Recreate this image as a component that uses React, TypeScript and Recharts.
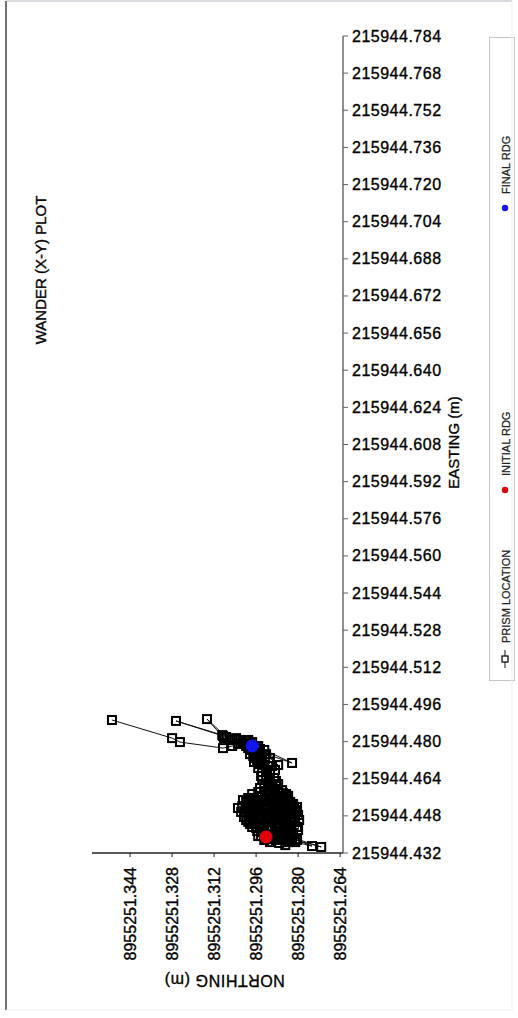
import React from 'react';
import { ScatterChart, Scatter, XAxis, YAxis, Legend, Label } from 'recharts';

// Survey reference coordinates (m); readings below are millimetres past these.
const NORTHING_BASE = 8955251;
const EASTING_BASE = 215944;

// Prism readings in recorded order: [northing mm, easting mm]
const prismReadingsMm: [number, number][] = [
  [292.2, 438.5], [290.7, 440.2], [293.7, 441.0], [295.2, 439.3], [288.4, 437.6],
  [284.9, 435.4], [286.9, 439.3], [289.9, 441.9], [283.0, 438.9], [271.2, 434.6],
  [282.3, 438.0], [280.4, 437.6], [274.7, 435.0], [281.1, 436.7], [285.3, 441.0],
  [287.6, 442.8], [291.4, 443.6], [296.0, 442.8], [298.3, 444.5], [299.8, 446.2],
  [297.5, 447.9], [294.5, 446.2], [290.7, 445.4], [286.9, 444.5], [283.8, 443.6],
  [280.4, 443.2], [282.3, 445.4], [285.3, 447.1], [288.4, 447.9], [292.2, 448.8],
  [296.0, 449.7], [299.0, 450.5], [301.3, 452.2], [302.9, 451.4], [299.8, 454.0],
  [296.8, 452.2], [293.7, 451.4], [289.9, 450.5], [286.1, 449.7], [282.3, 448.8],
  [280.0, 448.4], [281.5, 451.4], [284.6, 452.2], [288.4, 453.1], [292.2, 454.0],
  [296.0, 454.8], [299.0, 455.7], [301.0, 454.8], [297.5, 457.4], [293.7, 456.6],
  [289.9, 455.7], [286.1, 454.8], [283.0, 454.0], [280.4, 451.8], [283.8, 456.6],
  [287.6, 458.3], [291.4, 459.1], [294.5, 460.0], [292.9, 437.6], [290.7, 436.7],
  [287.6, 438.5], [284.6, 437.6], [283.4, 441.0], [285.7, 442.8], [288.8, 441.0],
  [291.8, 441.9], [294.5, 443.6], [296.8, 446.2], [293.3, 447.1], [289.5, 446.2],
  [286.5, 446.2], [283.0, 447.1], [281.1, 445.4], [282.7, 442.8], [284.9, 444.5],
  [288.4, 443.6], [292.9, 444.5], [295.6, 447.9], [298.3, 448.8], [300.2, 449.7],
  [297.5, 451.4], [294.5, 449.7], [291.0, 447.9], [287.2, 448.8], [283.8, 449.7],
  [281.9, 453.1], [285.3, 454.0], [289.1, 452.2], [292.9, 452.2], [295.2, 454.0],
  [298.3, 453.1], [299.8, 451.4], [296.8, 455.7], [292.9, 454.8], [288.4, 454.8],
  [285.3, 456.6], [289.1, 457.4], [292.2, 457.4], [295.2, 458.3], [292.9, 460.9],
  [294.1, 439.3], [291.4, 440.2], [289.1, 439.3], [286.1, 438.5], [283.8, 436.7],
  [287.2, 436.3], [290.3, 438.0], [292.9, 439.8], [295.6, 441.5], [297.5, 443.2],
  [299.0, 445.4], [296.4, 444.9], [293.7, 442.8], [290.7, 443.2], [287.2, 441.5],
  [284.6, 441.9], [281.9, 440.6], [280.0, 441.9], [279.6, 446.2], [281.5, 447.5],
  [284.2, 445.8], [287.2, 446.6], [290.3, 447.1], [293.7, 447.9], [296.4, 450.1],
  [298.7, 448.4], [300.6, 447.5], [301.7, 449.7], [299.4, 452.2], [295.6, 451.8],
  [291.8, 450.5], [288.0, 449.7], [284.2, 448.4], [280.8, 450.5], [282.7, 452.7],
  [286.5, 451.8], [290.3, 453.1], [294.5, 453.1], [297.9, 454.8], [294.9, 456.1],
  [291.0, 455.3], [287.2, 456.1], [284.2, 454.8], [285.7, 457.8], [289.1, 459.1],
  [292.6, 458.7], [291.4, 461.3], [288.4, 463.0], [291.0, 464.3], [294.1, 465.2],
  [289.9, 460.0], [286.1, 459.1], [284.6, 457.4], [287.6, 461.7], [290.7, 462.6],
  [293.7, 463.4], [292.2, 465.2], [289.1, 464.3], [290.7, 466.0], [293.7, 466.9],
  [291.8, 466.9], [289.9, 469.5], [292.9, 469.9], [295.6, 471.2], [292.6, 472.5],
  [295.2, 468.6], [292.2, 467.8], [288.8, 467.8], [291.4, 469.5], [294.5, 470.3],
  [296.8, 471.2], [293.7, 472.1], [291.0, 471.2], [287.6, 469.9], [290.7, 472.9],
  [294.9, 474.2], [297.1, 473.8], [294.5, 476.8], [296.8, 475.5], [299.0, 477.2],
  [293.7, 473.8], [296.0, 472.9], [298.3, 474.6], [295.2, 475.5], [292.2, 474.6],
  [282.3, 470.8], [292.9, 476.4], [296.0, 477.2], [298.3, 476.4], [299.8, 478.1],
  [300.6, 479.0], [302.1, 480.7], [298.3, 479.0],
  [297.5, 479.8], [295.2, 478.1], [299.0, 480.7], [301.3, 479.8], [303.6, 481.5],
  [308.2, 481.5], [314.7, 489.7], [307.4, 482.0], [308.9, 482.8], [326.5, 488.9],
  [308.6, 482.4], [305.9, 480.7], [302.9, 479.0], [305.1, 478.1], [308.6, 477.2],
  [325.0, 479.8], [328.0, 481.5], [350.9, 489.3],
];

const initialReadingMm: [number, number] = [292.2, 438.9];
const finalReadingMm: [number, number] = [297.5, 478.1];

const northingTicks = [
  8955251.344, 8955251.328, 8955251.312, 8955251.296, 8955251.28, 8955251.264,
];
const eastingTicks = [
  215944.432, 215944.448, 215944.464, 215944.48, 215944.496, 215944.512,
  215944.528, 215944.544, 215944.56, 215944.576, 215944.592, 215944.608,
  215944.624, 215944.64, 215944.656, 215944.672, 215944.688, 215944.704,
  215944.72, 215944.736, 215944.752, 215944.768, 215944.784,
];
const northingDomain: [number, number] = [8955251.2629, 8955251.3585];
const eastingDomain: [number, number] = [215944.432, 215944.784];

const SERIES_PRISM = 'PRISM LOCATION';
const SERIES_INITIAL = 'INITIAL RDG';
const SERIES_FINAL = 'FINAL RDG';
const TITLE = 'WANDER (X-Y) PLOT';
const NORTHING_TITLE = 'NORTHING (m)';
const EASTING_TITLE = 'EASTING (m)';

const INITIAL_COLOR = '#e2000c';
const FINAL_COLOR = '#1414f0';
const FONT = '"Liberation Sans", Arial, Helvetica, sans-serif';
// slight outline so the printed-looking labels read heavier
const INK = { fill: '#000', stroke: '#000', strokeWidth: 0.35 };

const toPoint = ([n, e]: [number, number]) => ({
  northing: NORTHING_BASE + n / 1000,
  easting: EASTING_BASE + e / 1000,
});

const prismData = prismReadingsMm.map(toPoint);
const initialData = [toPoint(initialReadingMm)];
const finalData = [toPoint(finalReadingMm)];

const PrismSquare = (props: any) => {
  const { cx, cy } = props;
  if (cx == null || cy == null) return null;
  return (
    <rect x={cx - 4} y={cy - 4} width={8} height={8} fill="none" stroke="#000" strokeWidth={2} />
  );
};

const makeDot = (color: string) => (props: any) => {
  const { cx, cy } = props;
  if (cx == null || cy == null) return null;
  return <circle cx={cx} cy={cy} r={6.5} fill={color} />;
};

const NorthingTick = (props: any) => {
  const { x, y, payload } = props;
  return (
    <text
      x={x}
      y={y}
      transform={`rotate(-90 ${x} ${y})`}
      textAnchor="end"
      dominantBaseline="central"
      fontFamily={FONT}
      fontSize={16}
      {...INK}
    >
      {Number(payload.value).toFixed(3)}
    </text>
  );
};

const EastingTick = (props: any) => {
  const { x, y, payload } = props;
  return (
    <text
      x={x}
      y={y}
      textAnchor="start"
      dominantBaseline="central"
      fontFamily={FONT}
      fontSize={16}
      letterSpacing={0.5}
      {...INK}
    >
      {Number(payload.value).toFixed(3)}
    </text>
  );
};

const NorthingTitle = (props: any) => {
  const vb = props.viewBox || { x: 92, y: 853, width: 251 };
  const cx = vb.x + vb.width / 2 + 7;
  const cy = vb.y + 127;
  return (
    <text
      x={cx}
      y={cy}
      transform={`rotate(180 ${cx} ${cy})`}
      textAnchor="middle"
      dominantBaseline="central"
      fontFamily={FONT}
      fontSize={16}
      letterSpacing={0.6}
      {...INK}
    >
      {NORTHING_TITLE}
    </text>
  );
};

const EastingTitle = (props: any) => {
  const vb = props.viewBox || { x: 343, y: 36, height: 817 };
  const cx = vb.x + 110;
  const cy = vb.y + vb.height / 2 - 2;
  return (
    <text
      x={cx}
      y={cy}
      transform={`rotate(-90 ${cx} ${cy})`}
      textAnchor="middle"
      dominantBaseline="central"
      fontFamily={FONT}
      fontSize={15}
      {...INK}
    >
      {EASTING_TITLE}
    </text>
  );
};

// where each legend entry's marker sits inside the tall narrow legend box
const LEGEND_MARK_Y: Record<string, number> = {
  [SERIES_PRISM]: 622,
  [SERIES_INITIAL]: 453,
  [SERIES_FINAL]: 171,
};

const renderLegend = (props: any) => {
  const payload: any[] = props.payload ?? [];
  const cx = 16;
  return (
    <svg width={26} height={645} style={{ display: 'block', overflow: 'visible' }}>
      <rect x={0.5} y={0.5} width={25} height={643} fill="#fff" stroke="#c6c6c6" />
      {payload.map((entry) => {
        const name = entry.value;
        const cy = LEGEND_MARK_Y[name] ?? 100;
        const marker =
          name === SERIES_PRISM ? (
            <g>
              <line x1={cx} x2={cx} y1={cy + 9} y2={cy - 9} stroke="#111" strokeWidth={1} />
              <rect x={cx - 3} y={cy - 3} width={6} height={6} fill="#fff" stroke="#111" strokeWidth={1.3} />
            </g>
          ) : (
            <circle cx={cx} cy={cy} r={3.2} fill={name === SERIES_INITIAL ? INITIAL_COLOR : FINAL_COLOR} />
          );
        const ty = cy - (name === SERIES_PRISM ? 16 : 14);
        return (
          <g key={name}>
            {marker}
            <text
              x={cx + 1}
              y={ty}
              transform={`rotate(-90 ${cx + 1} ${ty})`}
              textAnchor="start"
              dominantBaseline="central"
              fontFamily={FONT}
              fontSize={11}
              fill="#222"
              stroke="#222"
              strokeWidth={0.25}
            >
              {name}
            </text>
          </g>
        );
      })}
    </svg>
  );
};

export default function App() {
  return (
    <div style={{ position: 'absolute', left: 0, top: 0, width: 518, height: 1018, background: '#fff' }}>
      <ScatterChart
        width={518}
        height={1018}
        margin={{ top: 36, right: 65, bottom: 45, left: 92 }}
      >
        <XAxis
          type="number"
          dataKey="northing"
          domain={northingDomain}
          reversed
          ticks={northingTicks}
          interval={0}
          allowDataOverflow
          height={120}
          tickSize={4}
          tickMargin={10}
          tick={<NorthingTick />}
          axisLine={{ stroke: '#222', strokeWidth: 1.3 }}
          tickLine={{ stroke: '#222' }}
        >
          <Label content={<NorthingTitle />} />
        </XAxis>
        <YAxis
          type="number"
          dataKey="easting"
          orientation="right"
          domain={eastingDomain}
          ticks={eastingTicks}
          interval={0}
          allowDataOverflow
          width={110}
          tickSize={5}
          tickMargin={4}
          tick={<EastingTick />}
          axisLine={{ stroke: '#555', strokeWidth: 1.3 }}
          tickLine={{ stroke: '#666' }}
        >
          <Label content={<EastingTitle />} />
        </YAxis>
        <Legend
          layout="vertical"
          align="center"
          verticalAlign="middle"
          width={26}
          height={645}
          content={renderLegend}
          wrapperStyle={{ position: 'absolute', left: 489, top: 37, width: 26, height: 645 }}
        />
        <Scatter
          name={SERIES_PRISM}
          data={prismData}
          fill="#000"
          line={{ stroke: '#111', strokeWidth: 1 }}
          shape={PrismSquare}
          isAnimationActive={false}
        />
        <Scatter
          name={SERIES_INITIAL}
          data={initialData}
          fill={INITIAL_COLOR}
          shape={makeDot(INITIAL_COLOR)}
          isAnimationActive={false}
        />
        <Scatter
          name={SERIES_FINAL}
          data={finalData}
          fill={FINAL_COLOR}
          shape={makeDot(FINAL_COLOR)}
          isAnimationActive={false}
        />
      </ScatterChart>
      <svg
        width={518}
        height={1018}
        style={{ position: 'absolute', left: 0, top: 0, pointerEvents: 'none' }}
      >
        <line x1={6} x2={512} y1={1} y2={1} stroke="#b8b4bc" strokeWidth={1} />
        <line x1={6} x2={6} y1={1} y2={1010} stroke="#756e7a" strokeWidth={2} />
        <line x1={512} x2={512} y1={1} y2={1010} stroke="#ececec" strokeWidth={1} />
        <line x1={6} x2={512} y1={1010} y2={1010} stroke="#ececec" strokeWidth={1} />
        <text
          x={40}
          y={270}
          transform="rotate(-90 40 270)"
          textAnchor="middle"
          dominantBaseline="central"
          fontFamily={FONT}
          fontSize={15}
          {...INK}
        >
          {TITLE}
        </text>
      </svg>
    </div>
  );
}
